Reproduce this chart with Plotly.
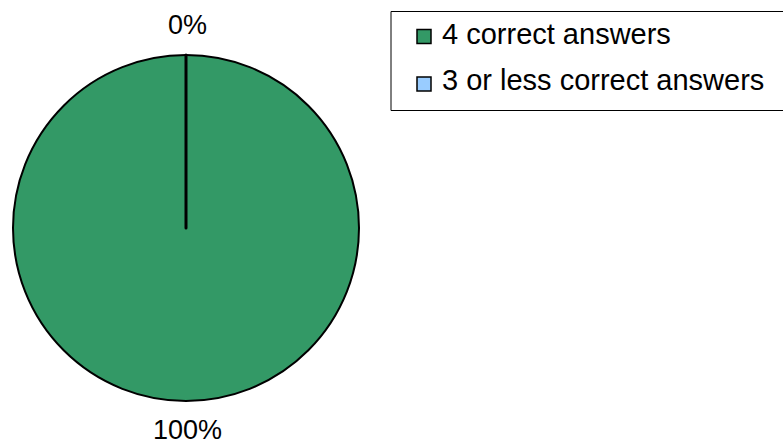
import plotly.graph_objects as go

# Answer categories and their shares
categories = ["4 correct answers", "3 or less correct answers"]
shares = [100, 0]
colors = ["#339966", "#99CCFF"]

W, H = 783, 444
FONT = "Liberation Sans, Arial, sans-serif"

fig = go.Figure(
    go.Pie(
        labels=categories,
        values=shares,
        marker=dict(colors=colors, line=dict(color="black", width=[2, 3])),
        sort=False,
        direction="clockwise",
        rotation=0,
        textinfo="none",
        domain=dict(x=[13 / W, 359 / W], y=[43 / H, 389 / H]),
        showlegend=False,
        hoverinfo="label+percent",
    )
)


def px(x):
    return x / W


def py(y):
    return 1 - y / H


total = sum(shares)
pct_labels = [f"{round(100 * v / total)}%" for v in shares]

annotations = []
# Percentage labels: the empty slice sits at the top, the full one is labelled below
label_pos = [(187.5, 429.5), (187.5, 24.5)]
for txt, (lx, ly) in zip(pct_labels, label_pos):
    annotations.append(dict(text=txt, xref="paper", yref="paper",
                            x=px(lx), y=py(ly), xanchor="center", yanchor="middle",
                            showarrow=False,
                            font=dict(family=FONT, size=27, color="black")))

# Legend box drawn in paper coordinates
shapes = [
    dict(type="rect", xref="paper", yref="paper",
         x0=px(391), x1=px(800), y0=py(110.5), y1=py(11.5),
         line=dict(color="black", width=1), fillcolor="white", layer="below"),
]
rows = [(33.5, 36.5), (80.5, 84)]
for name, col, (ty, sy) in zip(categories, colors, rows):
    shapes.append(dict(type="rect", xref="paper", yref="paper",
                       x0=px(417), x1=px(431), y0=py(sy + 7), y1=py(sy - 7),
                       line=dict(color="black", width=1.5), fillcolor=col))
    annotations.append(dict(text=name, xref="paper", yref="paper",
                            x=px(440), y=py(ty), xanchor="left", yanchor="middle",
                            showarrow=False,
                            font=dict(family=FONT, size=29, color="black")))

fig.update_layout(
    width=W, height=H,
    margin=dict(l=0, r=0, t=0, b=0),
    paper_bgcolor="white",
    plot_bgcolor="white",
    shapes=shapes,
    annotations=annotations,
    font=dict(family=FONT),
)

fig.write_html("out.html")
